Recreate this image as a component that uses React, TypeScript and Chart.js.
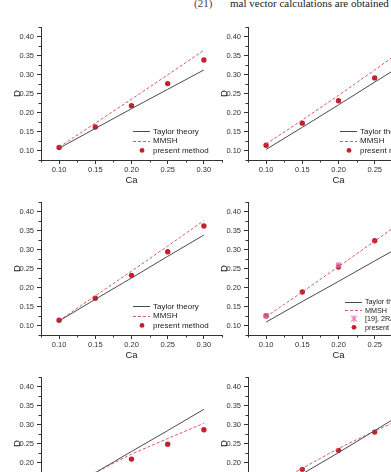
import React, { useEffect, useRef } from "react";
import { Chart, registerables } from "chart.js";
Chart.register(...registerables);

// ---------- data ----------
const CA = [0.1, 0.15, 0.2, 0.25, 0.3];
const X_MAJOR = [0.1, 0.15, 0.2, 0.25, 0.3];
const X_MINOR = [0.075, 0.125, 0.175, 0.225, 0.275, 0.325];
const Y_MAJOR = [0.1, 0.15, 0.2, 0.25, 0.3, 0.35, 0.4];
const Y_MINOR = [0.075, 0.125, 0.175, 0.225, 0.275, 0.325, 0.375, 0.425];

const taylorA = [0.106, 0.158, 0.21, 0.261, 0.312];
const mmshA = [0.109, 0.172, 0.235, 0.299, 0.364];
const presentA = [0.108, 0.162, 0.218, 0.276, 0.338];

const taylorB = [0.103, 0.161, 0.22, 0.28, 0.339];
const mmshB = [0.117, 0.18, 0.245, 0.312, 0.38];
const presentB = [0.114, 0.172, 0.231, 0.291, 0.352];

const taylorC = [0.112, 0.169, 0.225, 0.282, 0.338];
const mmshC = [0.113, 0.178, 0.243, 0.309, 0.376];
const presentC = [0.114, 0.172, 0.232, 0.294, 0.362];

const taylorD = [0.109, 0.163, 0.216, 0.27, 0.323];
const mmshD = [0.123, 0.188, 0.255, 0.322, 0.39];
const presentD = [0.125, 0.188, 0.254, 0.323, 0.392];
const refCaD = [0.1, 0.2];
const refD = [0.126, 0.259];

const taylorE = [0.117, 0.173, 0.229, 0.284, 0.34];
const mmshE = [0.118, 0.174, 0.222, 0.263, 0.303];
const presentE = [0.112, 0.165, 0.209, 0.248, 0.286];

const taylorF = [0.112, 0.17, 0.226, 0.284, 0.342];
const mmshF = [0.13, 0.185, 0.237, 0.283, 0.325];
const presentF = [0.13, 0.182, 0.232, 0.28, 0.326];

const LBL_TAYLOR = "Taylor theory";
const LBL_MMSH = "MMSH";
const LBL_PRESENT = "present method";
const LBL_REF = "[19], 2R/H=0.5";

// ---------- styles ----------
const AXIS = "#333333";
const SOLID = "#4a4a4a";
const DASH = "#d65a66";
const RED = "#c4202c";
const PINK = "#e070b0";
const FONT = "'Liberation Sans', Arial, sans-serif";

const pts = (xs: number[], ys: number[]) => xs.map((x, i) => ({ x, y: ys[i] }));

const minorTicks = {
  id: "minorTicks",
  afterDraw(chart: any) {
    const { ctx, chartArea } = chart;
    const xs = chart.scales.x;
    const ys = chart.scales.y;
    ctx.save();
    ctx.strokeStyle = AXIS;
    ctx.lineWidth = 1;
    ctx.beginPath();
    X_MINOR.forEach((v) => {
      const p = Math.round(xs.getPixelForValue(v)) + 0.5;
      ctx.moveTo(p, chartArea.bottom);
      ctx.lineTo(p, chartArea.bottom + 2.5);
    });
    Y_MINOR.forEach((v) => {
      const p = Math.round(ys.getPixelForValue(v)) + 0.5;
      ctx.moveTo(chartArea.left - 2.5, p);
      ctx.lineTo(chartArea.left, p);
    });
    ctx.stroke();
    ctx.restore();
  },
};

const miniLegend = {
  id: "miniLegend",
  afterDraw(chart: any, _args: any, opts: any) {
    if (!opts || !opts.items) return;
    const { ctx, chartArea } = chart;
    const { items, dx, dy, gap, size } = opts;
    ctx.save();
    ctx.font = `${size}px ${FONT}`;
    ctx.textBaseline = "middle";
    ctx.textAlign = "left";
    items.forEach((it: any, i: number) => {
      const y = chartArea.top + dy + i * gap;
      const x0 = chartArea.left + dx;
      if (it.kind === "solid" || it.kind === "dash") {
        ctx.strokeStyle = it.kind === "solid" ? SOLID : DASH;
        ctx.lineWidth = 1;
        ctx.setLineDash(it.kind === "dash" ? [3, 2] : []);
        ctx.beginPath();
        ctx.moveTo(x0, Math.round(y) + 0.5);
        ctx.lineTo(x0 + 17, Math.round(y) + 0.5);
        ctx.stroke();
        ctx.setLineDash([]);
      } else if (it.kind === "dot") {
        ctx.fillStyle = RED;
        ctx.beginPath();
        ctx.arc(x0 + 9, y, 2.4, 0, Math.PI * 2);
        ctx.fill();
      } else if (it.kind === "star") {
        ctx.strokeStyle = PINK;
        ctx.fillStyle = "rgba(224,112,176,0.35)";
        ctx.lineWidth = 1;
        ctx.fillRect(x0 + 6.5, y - 2.5, 5, 5);
        ctx.beginPath();
        ctx.moveTo(x0 + 6, y - 3); ctx.lineTo(x0 + 12, y + 3);
        ctx.moveTo(x0 + 12, y - 3); ctx.lineTo(x0 + 6, y + 3);
        ctx.moveTo(x0 + 9, y - 3.5); ctx.lineTo(x0 + 9, y + 3.5);
        ctx.stroke();
      }
      ctx.fillStyle = "#222";
      ctx.fillText(it.label, x0 + 20, y + 0.5);
    });
    ctx.restore();
  },
};

type Panel = {
  left: number;
  top: number;
  taylor: number[];
  mmsh: number[];
  present: number[];
  ref?: boolean;
};

const PANELS: Panel[] = [
  { left: 0, top: 0, taylor: taylorA, mmsh: mmshA, present: presentA },
  { left: 207, top: 0, taylor: taylorB, mmsh: mmshB, present: presentB },
  { left: 0, top: 175, taylor: taylorC, mmsh: mmshC, present: presentC },
  { left: 207, top: 175, taylor: taylorD, mmsh: mmshD, present: presentD, ref: true },
  { left: 0, top: 350, taylor: taylorE, mmsh: mmshE, present: presentE },
  { left: 207, top: 350, taylor: taylorF, mmsh: mmshF, present: presentF },
];

function PanelChart({ p }: { p: Panel }) {
  const ref = useRef<HTMLCanvasElement>(null);
  useEffect(() => {
    if (!ref.current) return;
    const datasets: any[] = [
      {
        label: LBL_TAYLOR,
        data: pts(CA, p.taylor),
        borderColor: SOLID,
        borderWidth: 1,
        pointRadius: 0,
        showLine: true,
      },
      {
        label: LBL_MMSH,
        data: pts(CA, p.mmsh),
        borderColor: DASH,
        borderWidth: 1,
        borderDash: [3, 2],
        pointRadius: 0,
        showLine: true,
      },
    ];
    if (p.ref) {
      datasets.push({
        label: LBL_REF,
        data: pts(refCaD, refD),
        showLine: false,
        pointStyle: "rect",
        pointRadius: 3,
        backgroundColor: "rgba(224,112,176,0.5)",
        borderColor: PINK,
        borderWidth: 1,
      });
    }
    datasets.push({
      label: LBL_PRESENT,
      data: pts(CA, p.present),
      showLine: false,
      pointRadius: 2.7,
      backgroundColor: RED,
      borderColor: RED,
      borderWidth: 0,
    });
    const legendItems = p.ref
      ? [
          { kind: "solid", label: LBL_TAYLOR },
          { kind: "dash", label: LBL_MMSH },
          { kind: "star", label: LBL_REF },
          { kind: "dot", label: LBL_PRESENT },
        ]
      : [
          { kind: "solid", label: LBL_TAYLOR },
          { kind: "dash", label: LBL_MMSH },
          { kind: "dot", label: LBL_PRESENT },
        ];
    const tickFont = { family: FONT, size: 7.5 };
    const chart = new Chart(ref.current, {
      type: "scatter",
      data: { datasets },
      plugins: [minorTicks, miniLegend],
      options: {
        animation: false,
        responsive: false,
        maintainAspectRatio: false,
        layout: { padding: { left: 0, top: 27, right: 8, bottom: 5 } },
        plugins: {
          legend: { display: false },
          tooltip: { enabled: false },
          miniLegend: p.ref
            ? { items: legendItems, dx: 97, dy: 99.5, gap: 8.6, size: 7.2 }
            : { items: legendItems, dx: 92, dy: 104, gap: 9.7, size: 8 },
        } as any,
        scales: {
          x: {
            type: "linear",
            min: 0.075,
            max: 0.325,
            afterBuildTicks: (s: any) => {
              s.ticks = X_MAJOR.map((v) => ({ value: v }));
            },
            afterFit: (s: any) => {
              s.height = 30;
            },
            grid: { drawOnChartArea: false, drawTicks: true, tickLength: 4, color: AXIS, tickColor: AXIS },
            border: { display: true, color: AXIS, width: 1 },
            ticks: {
              font: tickFont,
              color: "#333",
              padding: 1,
              maxRotation: 0,
              callback: (v: any) => Number(v).toFixed(2),
            },
            title: { display: true, text: "Ca", font: { family: FONT, size: 9.5 }, color: "#222", padding: { top: 0, bottom: 4 } },
          },
          y: {
            type: "linear",
            min: 0.075,
            max: 0.425,
            afterBuildTicks: (s: any) => {
              s.ticks = Y_MAJOR.map((v) => ({ value: v }));
            },
            afterFit: (s: any) => {
              s.width = 41;
            },
            grid: { drawOnChartArea: false, drawTicks: true, tickLength: 4, color: AXIS, tickColor: AXIS },
            border: { display: true, color: AXIS, width: 1 },
            ticks: {
              font: tickFont,
              color: "#333",
              padding: 3,
              callback: (v: any) => Number(v).toFixed(2),
            },
            title: { display: true, text: "D", font: { family: FONT, size: 9.5 }, color: "#222", padding: { top: 11.5, bottom: 0 } },
          },
        },
      } as any,
    });
    return () => chart.destroy();
  }, [p]);
  return (
    <canvas
      ref={ref}
      width={230}
      height={195}
      style={{ position: "absolute", left: p.left, top: p.top, width: 230, height: 195 }}
    />
  );
}

const headStyle: React.CSSProperties = {
  position: "absolute",
  top: -2,
  fontFamily: "'Liberation Serif', 'DejaVu Serif', serif",
  fontSize: 11,
  lineHeight: "11px",
  color: "#222",
  whiteSpace: "nowrap",
};

export default function App() {
  return (
    <div
      style={{
        position: "fixed",
        left: 0,
        top: 0,
        width: 391,
        height: 472,
        overflow: "hidden",
        background: "#fff",
      }}
    >
      <div style={{ ...headStyle, left: 194, color: "#444" }}>(21)</div>
      <div style={{ ...headStyle, left: 230 }}>mal vector calculations are obtained using</div>
      {PANELS.map((p, i) => (
        <PanelChart key={i} p={p} />
      ))}
    </div>
  );
}
